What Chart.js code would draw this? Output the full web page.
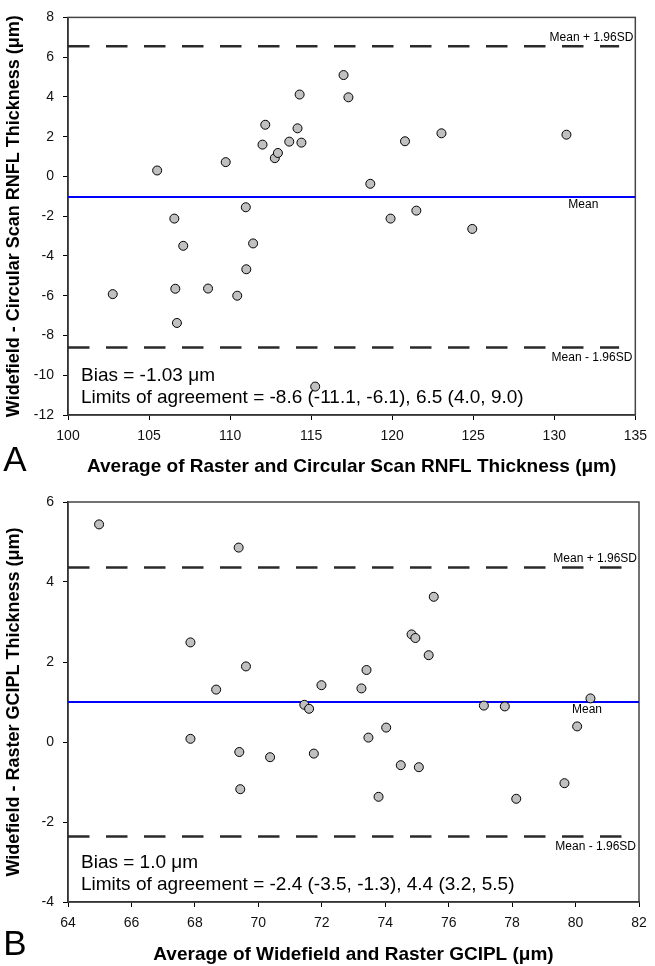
<!DOCTYPE html>
<html>
<head>
<meta charset="utf-8">
<script src="https://cdn.jsdelivr.net/npm/chart.js@4.4.0/dist/chart.umd.min.js"></script>
<style>
  body { margin: 0; background: #fff; }
  canvas { position: absolute; left: 0; }
</style>
</head>
<body>
<canvas id="chartA" width="655" height="480" style="top:0px"></canvas>
<canvas id="chartB" width="655" height="486" style="top:480px"></canvas>
<script>
// panel A - RNFL
const rnflAvg = [105.5, 109.73, 112.0, 112.17, 112.76, 112.95, 113.65, 114.16, 114.29, 114.4,
                 117.0, 117.3, 120.79, 123.04, 130.75, 118.65, 106.56, 110.97, 107.11, 111.42,
                 111.0, 102.76, 106.62, 108.64, 110.44, 106.72, 119.9, 121.49, 124.94, 115.25];
const rnflDiff = [0.30, 0.72, 1.60, 2.60, 0.92, 1.18, 1.75, 2.42, 4.12, 1.70,
                  5.10, 3.98, 1.77, 2.17, 2.10, -0.37, -2.12, -1.55, -3.49, -3.37,
                  -4.67, -5.92, -5.65, -5.64, -6.00, -7.37, -2.12, -1.72, -2.64, -10.57];
const rnflXTicks = [100, 105, 110, 115, 120, 125, 130, 135];
const rnflYTicks = [-12, -10, -8, -6, -4, -2, 0, 2, 4, 6, 8];
const rnflLimits = [-1.03, 6.55, -8.61];   // mean, mean+1.96SD, mean-1.96SD
const rnflDashEnd = 134;

// panel B - GCIPL
const gciplAvg = [64.98, 69.38, 67.86, 69.61, 68.67, 71.45, 71.6, 71.99, 73.25, 73.41,
                  74.83, 74.95, 75.37, 75.53, 77.11, 77.77, 80.47, 67.86, 69.4, 69.43,
                  70.37, 71.75, 73.47, 73.79, 74.03, 74.49, 75.06, 78.13, 79.65, 80.05];
const gciplDiff = [5.44, 4.86, 2.49, 1.89, 1.31, 0.93, 0.83, 1.42, 1.34, 1.80,
                   2.69, 2.60, 2.17, 3.63, 0.91, 0.89, 1.09, 0.08, -0.25, -1.18,
                   -0.38, -0.29, 0.11, -1.37, 0.36, -0.58, -0.63, -1.42, -1.03, 0.39];
const gciplXTicks = [64, 66, 68, 70, 72, 74, 76, 78, 80, 82];
const gciplYTicks = [-4, -2, 0, 2, 4, 6];
const gciplLimits = [1.0, 4.36, -2.36];
const gciplDashEnd = 81.45;

const FONT = '"Liberation Sans", Arial, Helvetica, sans-serif';

const notes = {
    id: 'notes',
    beforeDatasetsDraw(chart) {
        const a = chart.chartArea, ctx = chart.ctx;
        ctx.save();
        ctx.strokeStyle = '#444';
        ctx.lineWidth = 1.5;
        ctx.strokeRect(a.left, a.top, a.right - a.left, a.bottom - a.top);
        ctx.restore();
    },
    afterDraw(chart, args, o) {
        const ctx = chart.ctx, a = chart.chartArea, y = chart.scales.y;
        ctx.save();
        ctx.fillStyle = '#000';
        ctx.textBaseline = 'middle';
        ctx.font = '12px ' + FONT;
        ctx.textAlign = 'right';
        ctx.fillText('Mean + 1.96SD', a.right - 2, y.getPixelForValue(o.limits[1]) - 9);
        ctx.fillText('Mean - 1.96SD', a.right - 3, y.getPixelForValue(o.limits[2]) + 10);
        ctx.textAlign = 'center';
        ctx.fillText('Mean', a.right - 52, y.getPixelForValue(o.limits[0]) + 8);
        ctx.textAlign = 'left';
        ctx.font = '19px ' + FONT;
        ctx.fillText(o.lines[0], a.left + 13, a.bottom - 39);
        ctx.fillText(o.lines[1], a.left + 13, a.bottom - 17);
        ctx.font = '35px ' + FONT;
        ctx.textAlign = 'center';
        ctx.fillText(o.panel, 15, o.panelY);
        ctx.restore();
    }
};

function blandAltman(id, o) {
    var ctx = document.getElementById(id).getContext('2d');
    var x0 = o.xTicks[0], x1 = o.xTicks[o.xTicks.length - 1];
    var dashStyle = { type: 'line', borderColor: '#2a2a2a', borderWidth: 2.5, borderDash: [21.5, 16.5],
                      pointRadius: 0, fill: false };
    return new Chart(ctx, {
        type: 'scatter',
        data: {
            datasets: [{
                data: o.avg.map((v, i) => ({ x: v, y: o.diff[i] })),
                backgroundColor: '#c0c0c0',
                borderColor: '#000',
                borderWidth: 1,
                pointRadius: 4.5
            }, {
                type: 'line',
                data: [{ x: x0, y: o.limits[0] }, { x: x1, y: o.limits[0] }],
                borderColor: '#0000ff',
                borderWidth: 2,
                pointRadius: 0,
                fill: false
            },
            Object.assign({ data: [{ x: x0, y: o.limits[1] }, { x: o.dashEnd, y: o.limits[1] }] }, dashStyle),
            Object.assign({ data: [{ x: x0, y: o.limits[2] }, { x: o.dashEnd, y: o.limits[2] }] }, dashStyle)]
        },
        options: {
            responsive: false,
            animation: false,
            layout: { padding: { left: 0, right: 16, top: o.padTop, bottom: 0 } },
            plugins: {
                legend: { display: false },
                tooltip: { enabled: false },
                notes: { limits: o.limits, lines: o.lines, panel: o.panel, panelY: o.panelY }
            },
            scales: {
                x: {
                    type: 'linear',
                    min: x0, max: x1,
                    afterBuildTicks: s => { s.ticks = o.xTicks.map(v => ({ value: v })); },
                    afterFit: s => { s.height = o.xAxisH; },
                    grid: { drawOnChartArea: false, tickLength: 5, color: '#000' },
                    border: { color: '#000', width: 1.5 },
                    ticks: { font: { family: FONT, size: 14 }, color: '#111', padding: 8 },
                    title: { display: true, text: o.xTitle, color: '#000',
                             font: { family: FONT, size: 19, weight: 'bold' },
                             padding: { top: 0, bottom: o.xTitlePad } }
                },
                y: {
                    type: 'linear',
                    min: o.yTicks[0], max: o.yTicks[o.yTicks.length - 1],
                    afterBuildTicks: s => { s.ticks = o.yTicks.map(v => ({ value: v })); },
                    afterFit: s => { s.width = 68; },
                    grid: { drawOnChartArea: false, tickLength: 5, color: '#000' },
                    border: { color: '#000', width: 1.5 },
                    ticks: { font: { family: FONT, size: 14 }, color: '#111', padding: 9 },
                    title: { display: true, text: o.yTitle, color: '#000',
                             font: { family: FONT, size: 18, weight: 'bold' },
                             padding: { top: 3, bottom: 0 } }
                }
            }
        },
        plugins: [notes]
    });
}

window.addEventListener('load', () => {
    blandAltman('chartA', {
        avg: rnflAvg, diff: rnflDiff, xTicks: rnflXTicks, yTicks: rnflYTicks,
        limits: rnflLimits, dashEnd: rnflDashEnd,
        padTop: 14, xAxisH: 65, xTitlePad: 2,
        xTitle: 'Average of Raster and Circular Scan RNFL Thickness (μm)',
        yTitle: 'Widefield - Circular Scan RNFL Thickness (μm)',
        lines: ['Bias = -1.03 μm', 'Limits of agreement = -8.6 (-11.1, -6.1), 6.5 (4.0, 9.0)'],
        panel: 'A', panelY: 461
    });
    blandAltman('chartB', {
        avg: gciplAvg, diff: gciplDiff, xTicks: gciplXTicks, yTicks: gciplYTicks,
        limits: gciplLimits, dashEnd: gciplDashEnd,
        padTop: 22, xAxisH: 64, xTitlePad: 0,
        xTitle: 'Average of Widefield and Raster GCIPL (μm)',
        yTitle: 'Widefield - Raster GCIPL Thickness (μm)',
        lines: ['Bias = 1.0 μm', 'Limits of agreement = -2.4 (-3.5, -1.3), 4.4 (3.2, 5.5)'],
        panel: 'B', panelY: 465
    });
});
</script>
</body>
</html>
